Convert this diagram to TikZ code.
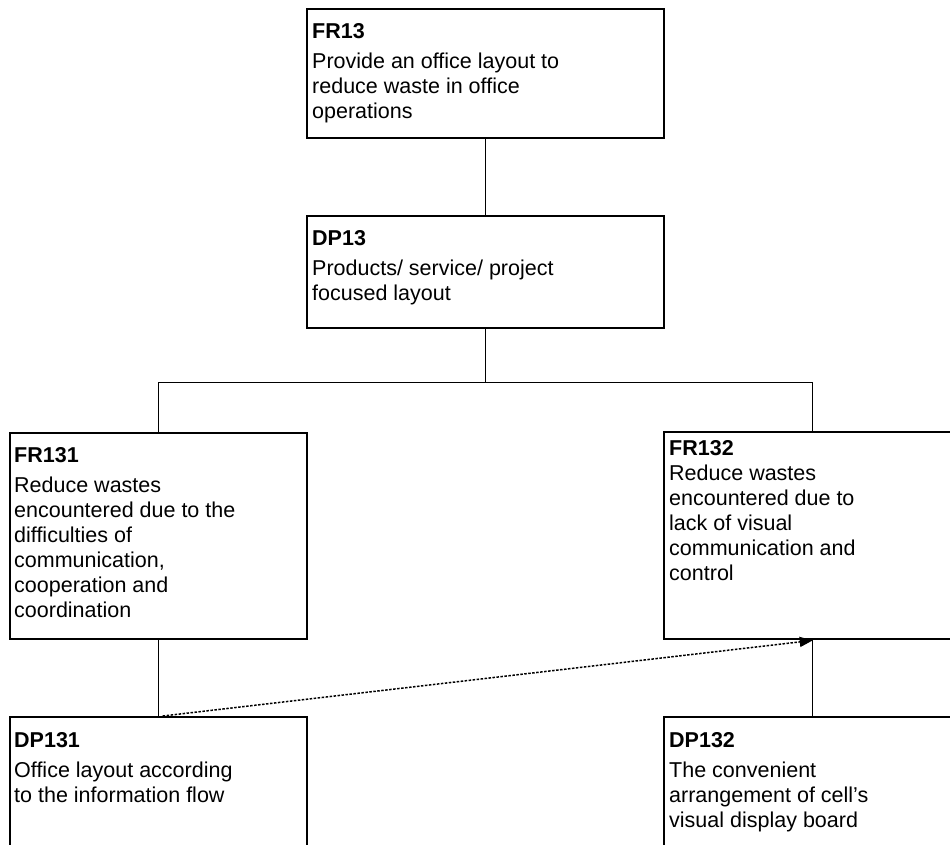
\documentclass[tikz,border=0pt]{standalone}
\usepackage{fontspec}
\setmainfont{Liberation Sans}
\usetikzlibrary{arrows.meta}
\begin{document}
\begin{tikzpicture}[x=1pt,y=-1pt,
  box/.style={draw=black, line width=2.4pt, anchor=north west, inner sep=0pt},
  txt/.style={anchor=north west, inner sep=0pt, align=left,
              font=\fontsize{21.5}{25}\selectfont},
  link/.style={draw=black, line width=1.5pt},
  trace/.style={draw=black, line width=1.5pt, dash pattern=on 2.5pt off 1.5pt,
                -{Triangle[length=13pt,width=10pt]}}]
\clip (0,0) rectangle (950,845);
\fill[white] (0,0) rectangle (950,845);

% boxes of the design hierarchy
\node[box, minimum width=357pt, minimum height=129pt] (fr13)  at (306,8)   {};
\node[box, minimum width=357pt, minimum height=112pt] (dp13)  at (306,215) {};
\node[box, minimum width=297pt, minimum height=206pt] (fr131) at (9,432)   {};
\node[box, minimum width=297pt, minimum height=207pt] (fr132) at (663,431) {};
\node[box, minimum width=297pt, minimum height=140pt] (dp131) at (9,716)   {};
\node[box, minimum width=297pt, minimum height=140pt] (dp132) at (663,716) {};

% box texts
\node[txt] (fr13t) at (312,23) {\textbf{FR13}\\[5pt]Provide an office layout to\\reduce waste in office\\operations};
\node[txt] (dp13t) at (312,230) {\textbf{DP13}\\[5pt]Products/ service/ project\\focused layout};
\node[txt] (fr131t) at (14,447) {\textbf{FR131}\\[5pt]Reduce wastes\\encountered due to the\\difficulties of\\communication,\\cooperation and\\coordination};
\node[txt] (fr132t) at (669,440) {\textbf{FR132}\\Reduce wastes\\encountered due to\\lack of visual\\communication and\\control};
\node[txt] (dp131t) at (14,732) {\textbf{DP131}\\[5pt]Office layout according\\to the information flow};
\node[txt] (dp132t) at (669,732) {\textbf{DP132}\\[5pt]The convenient\\arrangement of cell's\\visual display board};

% tree connectors
\draw[link] (fr13.south) -- (dp13.north);
\draw[link] (dp13.south) -- ++(0,53) coordinate (bus);
\draw[link] (fr131.north) |- (bus) -| (fr132.north);
\draw[link] (fr131.south) -- (dp131.north);
\draw[link] (fr132.south) -- (dp132.north);

% dotted dependency arrow
\draw[trace] (dp131.north) ++(4,0) coordinate (dstart) (dstart) -- (fr132.south);
\end{tikzpicture}
\end{document}
